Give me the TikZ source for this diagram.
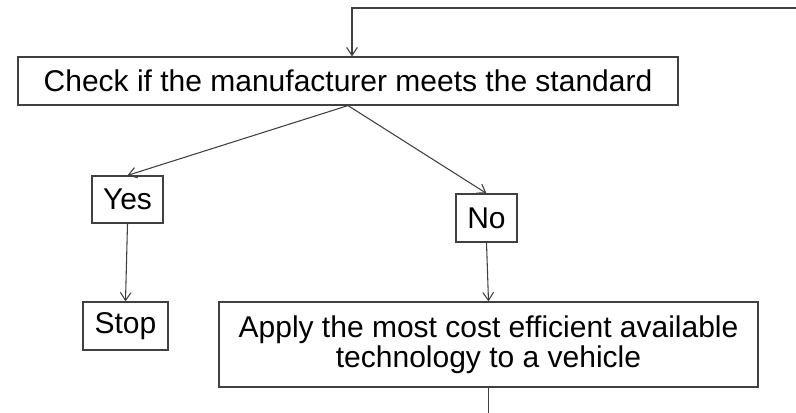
\documentclass[tikz,border=0pt]{standalone}
\usepackage{xcolor}
\usepackage{fontspec}
\setmainfont{Liberation Sans}
\usepackage{tikz}
\usetikzlibrary{arrows.meta,positioning,calc}

\tikzset{
  box/.style={draw=black!75,line width=0.9pt,inner sep=0pt,align=center,
    font=\fontsize{22.5pt}{22.5pt}\selectfont},
  link/.style={draw=black!75,line width=0.8pt,-{Straight Barb[length=6pt,width=8pt]}}
}

\begin{document}
\begin{tikzpicture}[x=0.75pt,y=0.75pt]
  \useasboundingbox (0,0) rectangle (796,413);
  % boxes
  \node[box,minimum width=495pt,minimum height=36pt] (check) at (348,332) {Check if the manufacturer meets the standard};
  \node[box,minimum width=53.25pt,minimum height=35.25pt] (yes) at (127.5,213.5) {Yes};
  \node[box,minimum width=45.75pt,minimum height=36pt] (no) at (486.5,195) {No};
  \node[box,minimum width=63.75pt,minimum height=36pt] (stop) at (125.5,87) {Stop};
  \node[box,minimum width=404.25pt,minimum height=63.75pt] (apply) at (488.5,68.5) {Apply the most cost efficient available\\technology to a vehicle};
  % loose ends
  \coordinate (back) at (796,405);
  \coordinate (next) at (488.5,0);
  % arrows
  \draw[link] (back) -| ([xshift=3pt]check.north);
  \draw[link] (check.south) -- (yes.north);
  \draw[link] (check.south) -- (no.north);
  \draw[link] (yes.south) -- (stop.north);
  \draw[link] (no.south) -- (apply.north);
  \draw[draw=black!75,line width=0.8pt] (apply.south) -- (next);
\end{tikzpicture}
\end{document}
